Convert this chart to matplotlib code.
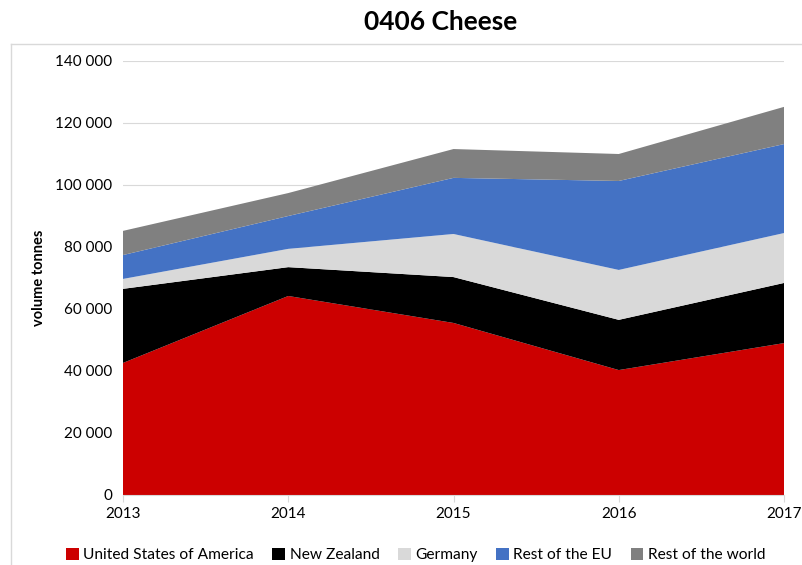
import numpy as np
import matplotlib.pyplot as plt
from matplotlib.lines import Line2D
from matplotlib.ticker import FuncFormatter

plt.rcParams['font.family'] = ['Lato', 'DejaVu Sans']

years = [2013, 2014, 2015, 2016, 2017]
usa = [42600, 64200, 55500, 40300, 49000]
new_zealand = [23900, 9300, 14800, 16200, 19400]
germany = [3200, 5900, 13900, 16100, 16100]
rest_eu = [7700, 10600, 18100, 28700, 28700]
rest_world = [7800, 7400, 9300, 8700, 12000]

labels = ['United States of America', 'New Zealand', 'Germany',
          'Rest of the EU', 'Rest of the world']
colors = ['#CC0000', '#000000', '#D9D9D9', '#4472C4', '#808080']

W, H = 803, 565
fig = plt.figure(figsize=(W / 100, H / 100), dpi=100)
ax = fig.add_axes([123 / W, 70 / H, 661 / W, 434 / H])

# outer chart frame (top and left edges visible)
fig.add_artist(Line2D([11 / W, 1], [1 - 44 / H, 1 - 44 / H], color='#D9D9D9', lw=1))
fig.add_artist(Line2D([11 / W, 11 / W], [0, 1 - 44 / H], color='#D9D9D9', lw=1))

ax.stackplot(years, usa, new_zealand, germany, rest_eu, rest_world,
             labels=labels, colors=colors, zorder=2)

ax.set_xlim(2013, 2017)
ax.set_ylim(0, 140000)
ax.set_xticks(years)
ax.set_yticks(np.arange(0, 140001, 20000))
ax.yaxis.set_major_formatter(FuncFormatter(lambda v, p: f'{int(v):,}'.replace(',', ' ')))
ax.grid(axis='y', color='#D9D9D9', linewidth=0.8, zorder=0)

for s in ['top', 'right', 'left']:
    ax.spines[s].set_visible(False)
ax.spines['bottom'].set_color('#D9D9D9')
ax.tick_params(axis='y', length=0, labelsize=11, pad=8)
ax.tick_params(axis='x', length=5, color='#D9D9D9', labelsize=11, pad=4)

ax.set_ylabel('volume tonnes', fontsize=10.5, fontweight='bold', labelpad=6)
fig.text(441 / W, 1 - 22 / H, '0406 Cheese', fontsize=19, fontweight='bold',
         ha='center', va='center')

ax.legend(loc='upper center', bbox_to_anchor=(0.443, -0.09), ncol=5,
          frameon=False, fontsize=11.2, handlelength=0.8, handleheight=0.8,
          handletextpad=0.3, columnspacing=1.2)

fig.savefig('out.png', dpi=100)
